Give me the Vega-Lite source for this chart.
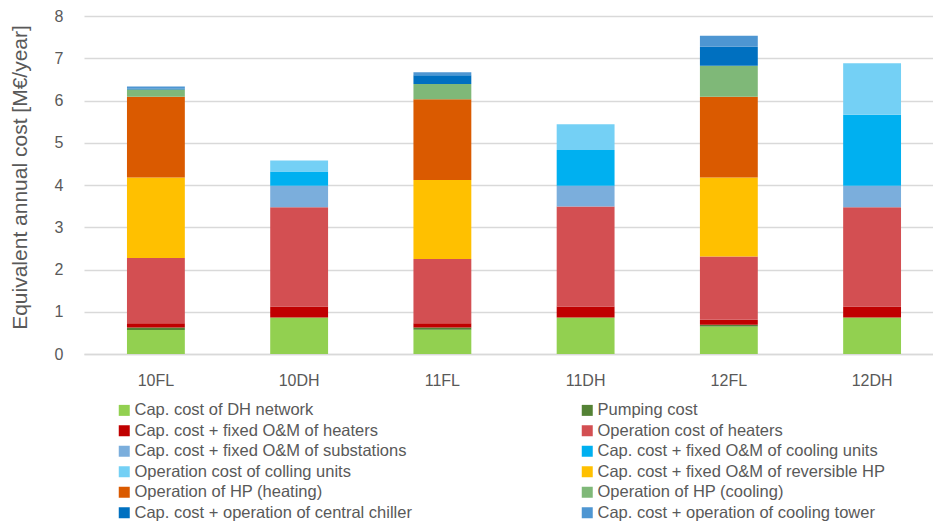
{
  "$schema": "https://vega.github.io/schema/vega-lite/v6.json",
  "width": 860,
  "height": 338,
  "autosize": "none",
  "padding": {"left": 84, "top": 16, "right": 0, "bottom": 172},
  "background": "white",
  "config": {
    "font": "Liberation Sans",
    "view": {"stroke": null}
  },
  "data": {
    "values": [
      {"s": "10FL", "c": "Cap. cost of DH network", "v": 0.57, "o": 1},
      {"s": "10FL", "c": "Pumping cost", "v": 0.06, "o": 2},
      {"s": "10FL", "c": "Cap. cost + fixed O&M of heaters", "v": 0.10, "o": 3},
      {"s": "10FL", "c": "Operation cost of heaters", "v": 1.54, "o": 4},
      {"s": "10FL", "c": "Cap. cost + fixed O&M of reversible HP", "v": 1.91, "o": 8},
      {"s": "10FL", "c": "Operation of HP (heating)", "v": 1.91, "o": 9},
      {"s": "10FL", "c": "Operation of HP (cooling)", "v": 0.17, "o": 10},
      {"s": "10FL", "c": "Cap. cost + operation of central chiller", "v": 0.02, "o": 11},
      {"s": "10FL", "c": "Cap. cost + operation of cooling tower", "v": 0.05, "o": 12},
      {"s": "10DH", "c": "Cap. cost of DH network", "v": 0.865, "o": 1},
      {"s": "10DH", "c": "Cap. cost + fixed O&M of heaters", "v": 0.26, "o": 3},
      {"s": "10DH", "c": "Operation cost of heaters", "v": 2.35, "o": 4},
      {"s": "10DH", "c": "Cap. cost + fixed O&M of substations", "v": 0.505, "o": 5},
      {"s": "10DH", "c": "Cap. cost + fixed O&M of cooling units", "v": 0.34, "o": 6},
      {"s": "10DH", "c": "Operation cost of colling units", "v": 0.26, "o": 7},
      {"s": "11FL", "c": "Cap. cost of DH network", "v": 0.575, "o": 1},
      {"s": "11FL", "c": "Pumping cost", "v": 0.055, "o": 2},
      {"s": "11FL", "c": "Cap. cost + fixed O&M of heaters", "v": 0.10, "o": 3},
      {"s": "11FL", "c": "Operation cost of heaters", "v": 1.52, "o": 4},
      {"s": "11FL", "c": "Cap. cost + fixed O&M of reversible HP", "v": 1.87, "o": 8},
      {"s": "11FL", "c": "Operation of HP (heating)", "v": 1.91, "o": 9},
      {"s": "11FL", "c": "Operation of HP (cooling)", "v": 0.36, "o": 10},
      {"s": "11FL", "c": "Cap. cost + operation of central chiller", "v": 0.21, "o": 11},
      {"s": "11FL", "c": "Cap. cost + operation of cooling tower", "v": 0.07, "o": 12},
      {"s": "11DH", "c": "Cap. cost of DH network", "v": 0.865, "o": 1},
      {"s": "11DH", "c": "Cap. cost + fixed O&M of heaters", "v": 0.26, "o": 3},
      {"s": "11DH", "c": "Operation cost of heaters", "v": 2.365, "o": 4},
      {"s": "11DH", "c": "Cap. cost + fixed O&M of substations", "v": 0.49, "o": 5},
      {"s": "11DH", "c": "Cap. cost + fixed O&M of cooling units", "v": 0.85, "o": 6},
      {"s": "11DH", "c": "Operation cost of colling units", "v": 0.61, "o": 7},
      {"s": "12FL", "c": "Cap. cost of DH network", "v": 0.65, "o": 1},
      {"s": "12FL", "c": "Pumping cost", "v": 0.04, "o": 2},
      {"s": "12FL", "c": "Cap. cost + fixed O&M of heaters", "v": 0.12, "o": 3},
      {"s": "12FL", "c": "Operation cost of heaters", "v": 1.50, "o": 4},
      {"s": "12FL", "c": "Cap. cost + fixed O&M of reversible HP", "v": 1.87, "o": 8},
      {"s": "12FL", "c": "Operation of HP (heating)", "v": 1.91, "o": 9},
      {"s": "12FL", "c": "Operation of HP (cooling)", "v": 0.73, "o": 10},
      {"s": "12FL", "c": "Cap. cost + operation of central chiller", "v": 0.45, "o": 11},
      {"s": "12FL", "c": "Cap. cost + operation of cooling tower", "v": 0.26, "o": 12},
      {"s": "12DH", "c": "Cap. cost of DH network", "v": 0.865, "o": 1},
      {"s": "12DH", "c": "Cap. cost + fixed O&M of heaters", "v": 0.26, "o": 3},
      {"s": "12DH", "c": "Operation cost of heaters", "v": 2.35, "o": 4},
      {"s": "12DH", "c": "Cap. cost + fixed O&M of substations", "v": 0.505, "o": 5},
      {"s": "12DH", "c": "Cap. cost + fixed O&M of cooling units", "v": 1.68, "o": 6},
      {"s": "12DH", "c": "Operation cost of colling units", "v": 1.22, "o": 7}
    ]
  },
  "mark": {"type": "bar"},
  "encoding": {
    "x": {
      "field": "s",
      "type": "nominal",
      "sort": ["10FL", "10DH", "11FL", "11DH", "12FL", "12DH"],
      "scale": {"paddingInner": 0.596, "paddingOuter": 0.3},
      "axis": {
        "title": null,
        "labelAngle": 0,
        "labelFontSize": 16,
        "labelColor": "#595959",
        "labelPadding": 18,
        "ticks": false,
        "domain": true,
        "domainColor": "#D9D9D9",
        "domainWidth": 1.5
      }
    },
    "y": {
      "field": "v",
      "type": "quantitative",
      "stack": "zero",
      "scale": {"domain": [0, 8], "nice": false},
      "axis": {
        "title": "Equivalent annual cost [M€/year]",
        "titleFontSize": 21,
        "titleFontWeight": "normal",
        "titleColor": "#595959",
        "titleAngle": -90,
        "titleX": -64,
        "titleY": 161,
        "titleAlign": "center",
        "titleBaseline": "middle",
        "values": [0, 1, 2, 3, 4, 5, 6, 7, 8],
        "labelFontSize": 16,
        "labelColor": "#595959",
        "labelPadding": 21,
        "ticks": false,
        "domain": false,
        "grid": true,
        "gridColor": "#D9D9D9",
        "gridWidth": 1.5
      }
    },
    "order": {"field": "o", "type": "quantitative"},
    "color": {
      "field": "c",
      "type": "nominal",
      "scale": {
        "domain": [
          "Cap. cost of DH network",
          "Pumping cost",
          "Cap. cost + fixed O&M of heaters",
          "Operation cost of heaters",
          "Cap. cost + fixed O&M of substations",
          "Cap. cost + fixed O&M of cooling units",
          "Operation cost of colling units",
          "Cap. cost + fixed O&M of reversible HP",
          "Operation of HP (heating)",
          "Operation of HP (cooling)",
          "Cap. cost + operation of central chiller",
          "Cap. cost + operation of cooling tower"
        ],
        "range": [
          "#92D050",
          "#548235",
          "#C00000",
          "#D34F52",
          "#7BAEDC",
          "#00B0F0",
          "#74D0F5",
          "#FFC000",
          "#DA5A00",
          "#7FB878",
          "#0070C0",
          "#4E96D2"
        ]
      },
      "legend": {
        "title": null,
        "orient": "none",
        "legendX": 32,
        "legendY": 386,
        "columns": 2,
        "direction": "horizontal",
        "symbolType": "square",
        "symbolSize": 121,
        "symbolStrokeWidth": 0,
        "labelFontSize": 16.5,
        "labelColor": "#595959",
        "labelOffset": 2,
        "labelLimit": 400,
        "columnPadding": 167,
        "rowPadding": 3.5,
        "padding": 0
      }
    }
  }
}
